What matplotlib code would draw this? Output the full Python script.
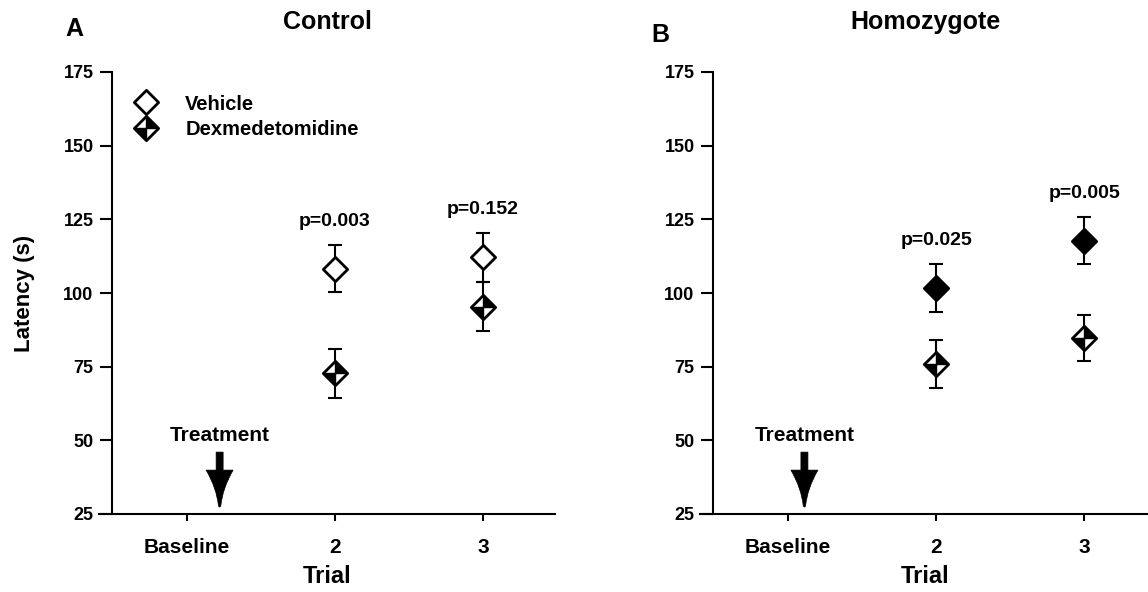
import matplotlib
matplotlib.use("Agg")
import matplotlib.pyplot as plt
from matplotlib.path import Path
from matplotlib.patches import PathPatch
from matplotlib.lines import Line2D
import matplotlib.transforms as mtrans

plt.rcParams['font.family'] = ['Liberation Sans', 'DejaVu Sans']
plt.rcParams['font.weight'] = 'bold'

# --- data
trials = [2, 3]
tick_pos = [1, 2, 3]
tick_labels = ["Baseline", "2", "3"]

ctrl_vehicle = [108.3, 112.1]
ctrl_vehicle_err = [8.1, 8.2]
ctrl_dex = [72.7, 95.3]
ctrl_dex_err = [8.3, 8.3]
pvals_ctrl = ["p=0.003", "p=0.152"]

homo_filled = [101.8, 117.8]
homo_filled_err = [8.1, 8.1]
homo_half = [75.8, 84.7]
homo_half_err = [8.1, 7.9]
pvals_homo = ["p=0.025", "p=0.005"]

treat_x = [1.22, 1.11]   # arrow position per panel

# --- marker shapes
DIAMOND = Path([(0, 1), (1, 0), (0, -1), (-1, 0), (0, 1)],
               [Path.MOVETO, Path.LINETO, Path.LINETO, Path.LINETO, Path.CLOSEPOLY])
QUADS = Path([(0, 0), (0, 1), (1, 0), (0, 0),
              (0, 0), (0, -1), (-1, 0), (0, 0)],
             [Path.MOVETO, Path.LINETO, Path.LINETO, Path.CLOSEPOLY] * 2)
MS = 17.5
LW = 1.5
MEW = 2.0

# tapered arrow outline, inches relative to the tip
ARROW = Path([(-0.035, 0.56), (0.035, 0.56), (0.035, 0.38), (0.135, 0.38),
              (0.03, 0.2), (0.012, 0.025), (0.0, -0.01), (-0.012, 0.025),
              (-0.03, 0.2), (-0.135, 0.38), (-0.035, 0.38), (-0.035, 0.56)],
             [Path.MOVETO, Path.LINETO, Path.LINETO, Path.LINETO,
              Path.CURVE3, Path.CURVE3, Path.CURVE3, Path.CURVE3,
              Path.CURVE3, Path.CURVE3, Path.LINETO, Path.CLOSEPOLY])


def errbars(ax, y, err):
    ax.errorbar(trials, y, yerr=err, fmt='none', ecolor='k', elinewidth=LW,
                capsize=5, capthick=LW, zorder=2)


def open_pts(ax, y, err):
    errbars(ax, y, err)
    ax.plot(trials, y, ls='none', marker=DIAMOND, ms=MS, mfc='white', mec='k', mew=MEW, zorder=3)


def filled_pts(ax, y, err):
    errbars(ax, y, err)
    ax.plot(trials, y, ls='none', marker=DIAMOND, ms=MS, mfc='k', mec='k', mew=MEW, zorder=3)


def half_pts(ax, y, err):
    errbars(ax, y, err)
    ax.plot(trials, y, ls='none', marker=DIAMOND, ms=MS, mfc='white', mec='k', mew=MEW, zorder=3)
    ax.plot(trials, y, ls='none', marker=QUADS, ms=MS, mfc='k', mec='k', mew=1.0, zorder=4)


def style_axes(ax, xmax):
    ax.set_xlim(0.405, xmax)
    ax.set_ylim(25, 175)
    for s in ['top', 'right']:
        ax.spines[s].set_visible(False)
    ax.spines['left'].set_position(('data', 0.49))
    ax.spines['left'].set_linewidth(LW)
    ax.spines['bottom'].set_linewidth(LW)
    ax.set_yticks([25, 50, 75, 100, 125, 150, 175])
    ax.set_xticks(tick_pos)
    ax.set_xticklabels(tick_labels)
    ax.tick_params(axis='y', direction='out', length=9, width=LW, labelsize=13, pad=4)
    ax.tick_params(axis='x', direction='out', length=5, width=LW, labelsize=15, pad=12)
    ax.set_xlabel("Trial", fontsize=17, fontweight='bold', labelpad=6)
    ax.patch.set_visible(False)


def treatment(ax, x):
    ax.text(x, 51.5, "Treatment", ha='center', va='center', fontsize=15, fontweight='bold')
    tr = fig.dpi_scale_trans + mtrans.ScaledTranslation(x, 27, ax.transData)
    ax.add_patch(PathPatch(ARROW, transform=tr, fc='k', ec='k', lw=0.5, clip_on=False))


def pvalues(ax, y, err, labels):
    for x, v, e, lab in zip(trials, y, err, labels):
        ax.text(x, v + e + 8, lab, ha='center', va='center', fontsize=14, fontweight='bold')


fig = plt.figure(figsize=(11.48, 5.92), dpi=100)
axA = fig.add_axes([99 / 1148, 78 / 592, 456 / 1148, 442 / 592])
axB = fig.add_axes([700 / 1148, 78 / 592, 451 / 1148, 442 / 592])

# panel A: control
style_axes(axA, 3.486)
open_pts(axA, ctrl_vehicle, ctrl_vehicle_err)
half_pts(axA, ctrl_dex, ctrl_dex_err)
pvalues(axA, ctrl_vehicle, ctrl_vehicle_err, pvals_ctrl)
treatment(axA, treat_x[0])
axA.set_ylabel("Latency (s)", fontsize=16, fontweight='bold', labelpad=20)

h_veh = Line2D([], [], ls='none', marker=DIAMOND, ms=MS, mfc='white', mec='k', mew=MEW)
h_dex = (Line2D([], [], ls='none', marker=DIAMOND, ms=MS, mfc='white', mec='k', mew=MEW),
         Line2D([], [], ls='none', marker=QUADS, ms=MS, mfc='k', mec='k', mew=1.0))
axA.legend([h_veh, h_dex], ["Vehicle", "Dexmedetomidine"], loc='upper left',
           bbox_to_anchor=(0.03, 0.99), frameon=False, fontsize=14.5, numpoints=1,
           handlelength=1.5, handletextpad=1.2, labelspacing=0.3)

# panel B: homozygote
style_axes(axB, 3.45)
filled_pts(axB, homo_filled, homo_filled_err)
half_pts(axB, homo_half, homo_half_err)
pvalues(axB, homo_filled, homo_filled_err, pvals_homo)
treatment(axB, treat_x[1])

fig.text(74 / 1148, 1 - 29 / 592, "A", ha='center', va='center', fontsize=18, fontweight='bold')
fig.text(327 / 1148, 1 - 22 / 592, "Control", ha='center', va='center', fontsize=18, fontweight='bold')
fig.text(660 / 1148, 1 - 35 / 592, "B", ha='center', va='center', fontsize=18, fontweight='bold')
fig.text(925 / 1148, 1 - 22 / 592, "Homozygote", ha='center', va='center', fontsize=18, fontweight='bold')

fig.savefig("out.png", dpi=100)
